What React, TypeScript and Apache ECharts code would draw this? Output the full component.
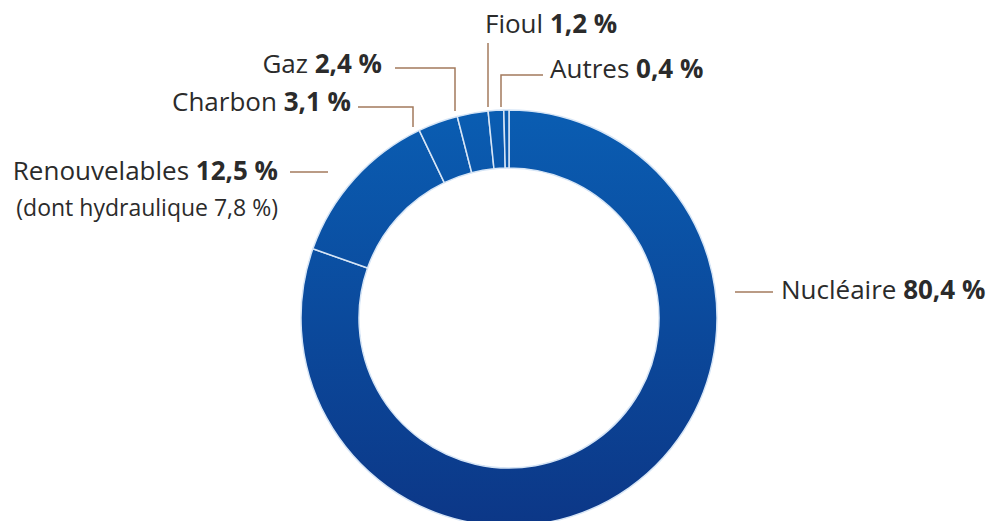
import React, { useEffect, useRef } from "react";
import * as echarts from "echarts";

const categories = ["Nucléaire", "Renouvelables", "Charbon", "Gaz", "Fioul", "Autres"];
const shares = [80.4, 12.5, 3.1, 2.4, 1.2, 0.4];
const notes = ["", "(dont hydraulique 7,8 %)", "", "", "", ""];

// label layout (position of each label and its leader line)
const labelPos = [
  { x: 781, y: 289, align: "left", line: [[735, 292], [755, 292], [773, 292]] },
  { x: 278, y: 151, align: "right", vTop: true, line: [[328, 172], [310, 172], [290, 172]] },
  { x: 351, y: 101, align: "right", line: [[413, 127], [413, 107], [358, 107]] },
  { x: 382, y: 63, align: "right", line: [[455, 111], [455, 68], [395, 68]] },
  { x: 485, y: 23, align: "left", line: [[488, 107], [488, 75], [488, 43]] },
  { x: 550, y: 68, align: "left", line: [[501, 107], [501, 75], [543, 75]] },
];

const fmt = (v: number) => v.toFixed(1).replace(".", ",") + " %";

export default function App() {
  const ref = useRef<HTMLDivElement>(null);
  useEffect(() => {
    document.body.style.margin = "0";
    const chart = echarts.init(ref.current!, undefined, { renderer: "svg" });
    const font = "'Open Sans', 'Noto Sans', sans-serif";
    chart.setOption({
      animation: false,
      backgroundColor: "#ffffff",
      series: [
        {
          type: "pie",
          center: [509, 318],
          radius: [150, 208],
          startAngle: 90,
          clockwise: true,
          avoidLabelOverlap: false,
          itemStyle: {
            color: new echarts.graphic.LinearGradient(0, 110, 0, 526, [
              { offset: 0, color: "#0a5db2" },
              { offset: 1, color: "#0c3787" },
            ], true),
            borderColor: "#d6e5f6",
            borderWidth: 1.5,
          },
          label: {
            show: true,
            position: "outside",
            fontFamily: font,
            fontSize: 26,
            color: "#2b2b2b",
            formatter: (p: any) => {
              const i = p.dataIndex;
              let s = `{n|${categories[i]} }{v|${fmt(shares[i])}}`;
              if (notes[i]) s += `\n{s|${notes[i]}}`;
              return s;
            },
            rich: {
              n: { fontSize: 26, fontFamily: font, color: "#2b2b2b", lineHeight: 37 },
              v: { fontSize: 26, fontFamily: font, fontWeight: "bold", color: "#2b2b2b", lineHeight: 37 },
              s: { fontSize: 23, fontFamily: font, color: "#2b2b2b", lineHeight: 37 },
            },
          },
          labelLine: {
            show: true,
            lineStyle: { color: "#a37a5c", width: 1.5 },
          },
          labelLayout: (params: any) => {
            const p = labelPos[params.dataIndex];
            return {
              x: p.x,
              y: p.y,
              align: p.align,
              verticalAlign: p.vTop ? "top" : "middle",
              labelLinePoints: p.line,
            };
          },
          emphasis: { disabled: true },
          data: categories.map((c, i) => ({ name: c, value: shares[i] })),
        },
      ],
    });
    return () => chart.dispose();
  }, []);
  return <div ref={ref} style={{ width: 1002, height: 521 }} />;
}
